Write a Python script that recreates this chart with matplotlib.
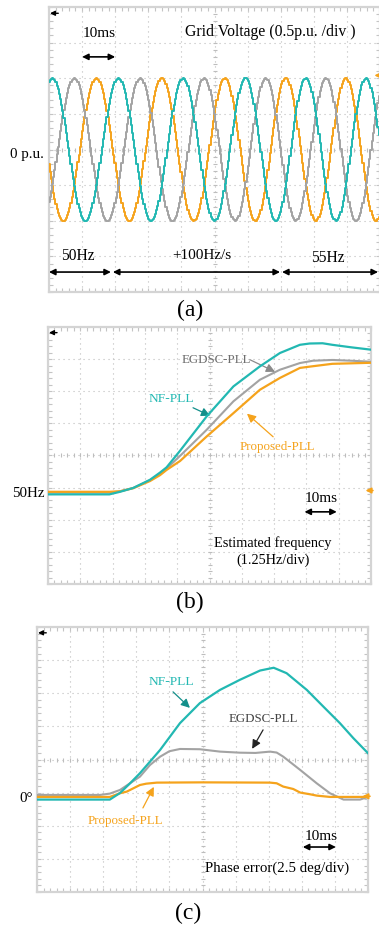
import numpy as np
import matplotlib.pyplot as plt

plt.rcParams['font.family'] = ['Liberation Serif', 'DejaVu Serif']

TEAL = '#22b8b2'
TEAL_DK = '#138f8a'
ORANGE = '#f5a31c'
GREY = '#a3a3a3'

# (a) grid voltage test: frequency profile (ms, Hz)
prof_t = [0, 19, 69, 100]
prof_f = [50, 50, 55, 55]
crest_ms = 1.0          # first crest of the teal phase
v_amp = 1.0             # p.u.

# (b) estimated frequency (ms, Hz)
fb_nf_t = [0, 19, 22.3, 26.4, 31.6, 34.7, 36.7, 40.9, 49.1, 57.4, 65.6, 71.8, 78, 81, 85, 88, 94, 100]
fb_nf_f = [49.9, 49.9, 50.0, 50.15, 50.47, 50.75, 50.95, 51.6, 52.93, 54.1, 54.88, 55.4, 55.72, 55.77, 55.78, 55.72, 55.62, 55.53]
fb_eg_t = [0, 19, 22.3, 26.4, 31.6, 34.7, 36.7, 40.9, 49.1, 57.4, 65.6, 71.8, 78, 82, 88, 94, 100]
fb_eg_f = [49.97, 49.97, 50.02, 50.15, 50.45, 50.7, 50.9, 51.4, 52.41, 53.52, 54.36, 54.75, 55.01, 55.1, 55.13, 55.1, 55.06]
fb_pr_t = [0, 19, 22.3, 26.4, 31.6, 34.7, 36.7, 40.9, 49.1, 57.4, 65.6, 71.8, 78, 81, 88, 94, 100]
fb_pr_f = [50.0, 50.0, 50.02, 50.14, 50.42, 50.65, 50.85, 51.2, 52.15, 53.06, 53.97, 54.43, 54.82, 54.87, 54.98, 55.0, 55.02]

# (c) phase error (ms, deg)
pe_nf_t = [0, 22, 25.1, 28, 31.1, 37.2, 43.2, 49.2, 55.3, 61.3, 67.4, 71.5, 75.4, 81.5, 86.5, 91.5, 95.6, 100]
pe_nf_d = [-0.2, -0.2, 0.3, 1.0, 1.79, 3.55, 5.57, 7.08, 8.08, 8.84, 9.54, 9.75, 9.34, 8.08, 6.82, 5.57, 4.43, 3.3]
pe_eg_t = [0, 19, 22, 25.1, 31.1, 34.1, 37.2, 40, 43.2, 49.2, 55.3, 61.3, 66, 70.4, 72.4, 74.4, 79.5, 84.5, 88.5, 92.6, 97.6, 100]
pe_eg_d = [0.15, 0.15, 0.25, 0.53, 1.53, 2.4, 3.04, 3.45, 3.62, 3.6, 3.42, 3.34, 3.32, 3.42, 3.35, 3.04, 2.04, 1.03, 0.28, -0.2, -0.2, 0.0]
pe_pr_t = [0, 22, 25.1, 27.1, 31.1, 33, 36.2, 50, 70.4, 72.4, 74.4, 77.4, 79.5, 82.5, 84.5, 88.5, 100]
pe_pr_d = [0.0, 0.0, 0.28, 0.4, 0.9, 1.0, 1.08, 1.1, 1.08, 1.03, 0.78, 0.6, 0.33, 0.2, 0.1, 0.0, 0.0]

GRIDC = '#bdbdbd'


def scope(ax, ylo, ydiv):
    ax.set_xlim(0, 100)
    ax.set_ylim(ylo, ylo + 8 * ydiv)
    ax.set_xticks(np.arange(0, 100.1, 10))
    ax.set_xticks(np.arange(0, 100.1, 2), minor=True)
    ax.set_yticks(ylo + ydiv * np.arange(9))
    ax.set_yticks(ylo + ydiv / 5 * np.arange(41), minor=True)
    ax.tick_params(which='both', direction='in', top=True, right=True,
                   labelleft=False, labelbottom=False,
                   color='#c4c4c4', length=3, width=0.8)
    ax.grid(True, which='major', color=GRIDC, lw=0.8, ls=(0, (1, 3.5)))
    for s in ax.spines.values():
        s.set_color('#d4d4d4')
        s.set_linewidth(1.6)
    # centre cross with small graduations
    yc = ylo + 4 * ydiv
    xs = np.arange(0, 100.1, 2)
    ax.plot(xs, np.full(xs.size, yc), ls='none', marker='|', ms=3.5, mew=0.8, color=GRIDC)
    ys = ylo + ydiv / 5 * np.arange(41)
    ax.plot(np.full(ys.size, 50), ys, ls='none', marker='_', ms=3.5, mew=0.8, color=GRIDC)
    # channel marker, top left
    ax.annotate('', xy=(0.003, 0.978), xytext=(0.028, 0.978), xycoords='axes fraction',
                arrowprops=dict(arrowstyle='-|>', color='k', lw=1.0, mutation_scale=7,
                                shrinkA=0, shrinkB=0))


def ref_marker(ax, y):
    ax.annotate('', xy=(98.3, y), xytext=(100.6, y), xycoords='data',
                arrowprops=dict(arrowstyle='-|>', color=ORANGE, lw=1.2, mutation_scale=8,
                                shrinkA=0, shrinkB=0), annotation_clip=False)


def dbl(ax, x0, x1, y, lw=1.2):
    ax.annotate('', xy=(x1, y), xytext=(x0, y),
                arrowprops=dict(arrowstyle='<|-|>', color='k', lw=lw, mutation_scale=9,
                                shrinkA=0, shrinkB=0), annotation_clip=False)


def pointer(ax, xy, xytext, ac):
    ax.annotate('', xy=xy, xytext=xytext,
                arrowprops=dict(arrowstyle='-|>', color=ac, lw=0.9, mutation_scale=13,
                                shrinkA=0, shrinkB=0))


fig = plt.figure(figsize=(3.79, 9.25), dpi=100)

# ---------------- (a) grid voltage
ax = fig.add_axes([49 / 379, 633 / 925, 331 / 379, 285 / 925])
scope(ax, -2.0, 0.5)

dt = 0.35
t = np.arange(0, 100 + dt, dt)
f = np.interp(t, prof_t, prof_f)
theta = 2 * np.pi * np.cumsum(f) * dt / 1000.0
theta -= np.interp(crest_ms, t, theta)
for k, c in enumerate([TEAL, GREY, ORANGE]):
    ax.plot(t, v_amp * np.cos(theta - 2 * np.pi * k / 3), color=c, lw=1.4,
            drawstyle='steps-mid', zorder=3 - k * 0.1)

ax.text(15.1, 1.63, '10ms', ha='center', va='center', fontsize=11)
dbl(ax, 10, 20, 1.3)
ax.text(66.8, 1.65, 'Grid Voltage (0.5p.u. /div )', ha='center', va='center', fontsize=11.3)
ax.text(-1.6, -0.07, '0 p.u.', ha='right', va='center', fontsize=10.8)
ax.text(8.8, -1.49, '50Hz', ha='center', va='center', fontsize=11.2)
ax.text(46.2, -1.49, '+100Hz/s', ha='center', va='center', fontsize=11)
ax.text(84.3, -1.52, '55Hz', ha='center', va='center', fontsize=11.2)
dbl(ax, 0, 18.7, -1.72)
dbl(ax, 19.3, 69.8, -1.72)
dbl(ax, 70.4, 99.4, -1.72)
ref_marker(ax, 1.04)

# ---------------- (b) estimated frequency
ax = fig.add_axes([48 / 379, 341 / 925, 323 / 379, 257 / 925])
lo_b = 50 - 2.87 * 1.25
scope(ax, lo_b, 1.25)
ax.plot(fb_eg_t, fb_eg_f, color=GREY, lw=1.5, zorder=3)
ax.plot(fb_pr_t, fb_pr_f, color=ORANGE, lw=1.6, zorder=4)
ax.plot(fb_nf_t, fb_nf_f, color=TEAL, lw=1.6, zorder=5)

ax.text(52, 55.14, 'EGDSC-PLL', ha='center', va='center', fontsize=9.3, color='#6e6e6e')
pointer(ax, (70.3, 54.67), (62.5, 55.14), '#8a8a8a')
ax.text(38.1, 53.62, 'NF-PLL', ha='center', va='center', fontsize=9.7, color=TEAL)
pointer(ax, (50.2, 52.96), (44.9, 53.27), TEAL_DK)
ax.text(70.9, 51.75, 'Proposed-PLL', ha='center', va='center', fontsize=9.3, color=ORANGE)
pointer(ax, (61.6, 53.04), (69.7, 52.14), ORANGE)

ax.text(84.5, 49.73, '10ms', ha='center', va='center', fontsize=11)
dbl(ax, 79.4, 89.4, 49.22)
ax.text(69.7, 48.01, 'Estimated frequency', ha='center', va='center', fontsize=10.3)
ax.text(69.7, 47.35, '(1.25Hz/div)', ha='center', va='center', fontsize=10.3)
ax.text(-1.0, 49.92, '50Hz', ha='right', va='center', fontsize=10.8)
ref_marker(ax, 50.05)

# ---------------- (c) phase error
ax = fig.add_axes([37 / 379, 33 / 925, 331 / 379, 265 / 925])
lo_c = -2.87 * 2.5
scope(ax, lo_c, 2.5)
ax.plot(pe_eg_t, pe_eg_d, color=GREY, lw=1.5, zorder=3)
ax.plot(pe_pr_t, pe_pr_d, color=ORANGE, lw=1.6, zorder=4)
ax.plot(pe_nf_t, pe_nf_d, color=TEAL, lw=1.6, zorder=5)

ax.text(40.5, 8.69, 'NF-PLL', ha='center', va='center', fontsize=9.7, color=TEAL)
pointer(ax, (46.2, 6.72), (41.1, 7.93), TEAL_DK)
ax.text(68.3, 5.89, 'EGDSC-PLL', ha='center', va='center', fontsize=9.3, color='#444444')
pointer(ax, (65.0, 3.63), (68.3, 5.06), '#222222')
ax.text(26.6, -1.81, 'Proposed-PLL', ha='center', va='center', fontsize=9.3, color=ORANGE)
pointer(ax, (35.3, 0.76), (32.0, -0.83), ORANGE)

ax.text(85.8, -2.95, '10ms', ha='center', va='center', fontsize=11)
dbl(ax, 80.3, 90.3, -3.78)
ax.text(72.5, -5.36, 'Phase error(2.5 deg/div)', ha='center', va='center', fontsize=10.7)
ax.text(-1.2, -0.15, '0°', ha='right', va='center', fontsize=10.8)
ref_marker(ax, 0.05)

# panel captions
fig.text(190 / 379, 1 - 310 / 925, '(a)', ha='center', va='center', fontsize=17)
fig.text(190 / 379, 1 - 602 / 925, '(b)', ha='center', va='center', fontsize=17)
fig.text(188 / 379, 1 - 913 / 925, '(c)', ha='center', va='center', fontsize=17)

fig.savefig('out.png', dpi=100)
